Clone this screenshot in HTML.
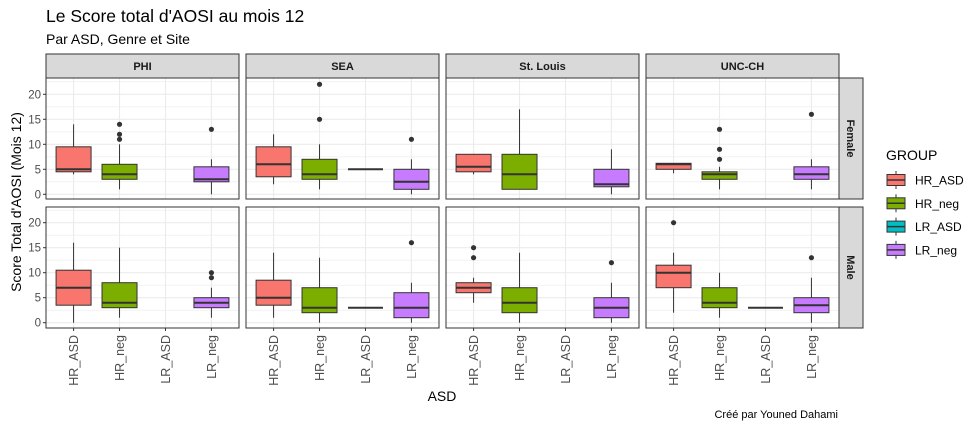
<!DOCTYPE html>
<html><head><meta charset="utf-8"><style>
body{margin:0;background:#fff;width:979px;height:429px;overflow:hidden}
svg{font-family:"Liberation Sans",sans-serif}
</style></head><body>
<svg id="chart" width="979" height="429">
<text x="46" y="22" font-size="17.5" fill="#000">Le Score total d'AOSI au mois 12</text>
<text x="46" y="44" font-size="14" fill="#000">Par ASD, Genre et Site</text>
<text transform="translate(21,202) rotate(-90)" text-anchor="middle" font-size="14" fill="#000">Score Total d'AOSI (Mois 12)</text>
<text x="442" y="401" text-anchor="middle" font-size="14" fill="#000">ASD</text>
<text x="838" y="418" text-anchor="end" font-size="11" fill="#000">Créé par Youned Dahami</text>
<g id="plots"></g>
<g id="legend"></g>
</svg>
<script>
const sites=["PHI","SEA","St. Louis","UNC-CH"];
const genders=["Female","Male"];
const categories=["HR_ASD","HR_neg","LR_ASD","LR_neg"];
const colors=["#F8766D","#7CAE00","#00BFC4","#C77CFF"];
const yTicks=[0,5,10,15,20];
// stats: [lo,q1,med,q3,hi], null = no data
const femaleStats=[
 [[4,4.5,5,9.5,14],[1,3,4,6,10],null,[0,2.5,3,5.5,7]],
 [[2,3.5,6,9.5,12],[1,3,4,7,10],[5,5,5,5,5],[0,1,2.5,5,7]],
 [[4,4.5,5.5,8,8],[1,1,4,8,17],null,[0,1.5,2,5,9]],
 [[4.2,5,6,6.2,6.2],[1,3,4,4.5,5.5],null,[1,3,4,5.5,7]]
];
const femaleOutliers=[
 [[],[11,12,14],[],[13]],
 [[],[15,22],[],[11]],
 [[],[],[],[]],
 [[],[7,9,13],[],[16]]
];
const maleStats=[
 [[0,3.5,7,10.5,16],[1,3,4,8,15],null,[1,3,4,5,7]],
 [[1,3.5,5,8.5,14],[0,2,3,7,13],[3,3,3,3,3],[0,1,3,6,8]],
 [[4,6,7,8,9],[0,2,4,7,14],null,[0,1,3,5,8]],
 [[2,7,10,11.5,14],[1,3,4,7,10],[3,3,3,3,3],[0,2,3.5,5,9]]
];
const maleOutliers=[
 [[],[],[],[9,10]],
 [[],[],[],[16]],
 [[13,15],[],[],[12]],
 [[20],[],[],[13]]
];
const NS="http://www.w3.org/2000/svg";
function mk(tag,attrs,parent){const e=document.createElementNS(NS,tag);for(const k in attrs)e.setAttribute(k,attrs[k]);parent.appendChild(e);return e;}
const plots=document.getElementById('plots');
const panelX0=46,panelW=193,panelStep=200;
const rowTop=[78,207],rowH=[121,121];
function yScale(row,v){const zero=row===0?194.3:322.7;return zero-v*5;}
function xScale(col,i){return panelX0+col*panelStep+(i+0.6)*panelW/4.2;}
const bw=35;
for(let c=0;c<sites.length;c++){
 const px=panelX0+c*panelStep;
 const strip=mk('rect',{x:px,y:54,width:panelW,height:24,fill:"#D9D9D9",stroke:"#333","stroke-width":1},plots);
 
 
 const st=mk('text',{x:px+panelW/2,y:70,"text-anchor":"middle","font-size":"11","font-weight":"bold",fill:"#1a1a1a"},plots);
 st.textContent=sites[c];
 
 
 for(let r=0;r<2;r++){
  const top=rowTop[r],h=rowH[r];
  const g=mk('g',{},plots);
  
  
  mk('rect',{x:px,y:top,width:panelW,height:h,fill:"#fff"},g);
  for(let v=-2.5;v<=22.5;v+=2.5){const y=yScale(r,v);if(y<top||y>top+h)continue;
   mk('line',{x1:px,x2:px+panelW,y1:y,y2:y,stroke:"#EBEBEB","stroke-width":v%5===0?1.1:0.6},g);}
  for(let i=0;i<4;i++){const x=xScale(c,i);mk('line',{x1:x,x2:x,y1:top,y2:top+h,stroke:"#EBEBEB","stroke-width":1.1},g);}
  const stats=r===0?femaleStats:maleStats, outs=r===0?femaleOutliers:maleOutliers;
  for(let i=0;i<4;i++){
   const s=stats[c][i];const x=xScale(c,i);
   if(s){
    const bx=mk('g',{},g);
    
    
    mk('line',{x1:x,x2:x,y1:yScale(r,s[4]),y2:yScale(r,s[3]),stroke:"#333","stroke-width":1},bx);
    mk('line',{x1:x,x2:x,y1:yScale(r,s[1]),y2:yScale(r,s[0]),stroke:"#333","stroke-width":1},bx);
    mk('rect',{x:x-bw/2,y:yScale(r,s[3]),width:bw,height:Math.max(0,yScale(r,s[1])-yScale(r,s[3])),fill:colors[i],stroke:"#333","stroke-width":1},bx);
    mk('line',{x1:x-bw/2,x2:x+bw/2,y1:yScale(r,s[2]),y2:yScale(r,s[2]),stroke:"#333","stroke-width":2},bx);
   }
   for(const o of outs[c][i]){
    const p=mk('circle',{cx:x,cy:yScale(r,o),r:2.6,fill:"#333"},g);
    
    
   }
  }
  mk('rect',{x:px,y:top,width:panelW,height:h,fill:"none",stroke:"#333","stroke-width":1},g);
  if(c===0){
   for(const t of yTicks){const y=yScale(r,t);
    mk('line',{x1:px-3,x2:px,y1:y,y2:y,stroke:"#333"},plots);
    const tl=mk('text',{x:px-5,y:y+4,"text-anchor":"end","font-size":"11.5",fill:"#4d4d4d"},plots);
    tl.textContent=t;
    
    }
  }
  if(c===3){
   const rs=mk('rect',{x:px+panelW,y:top,width:24,height:h,fill:"#D9D9D9",stroke:"#333","stroke-width":1},plots);
   
   
   const rt=mk('text',{transform:`translate(${px+panelW+8},${top+h/2}) rotate(90)`,"text-anchor":"middle","font-size":"11","font-weight":"bold",fill:"#1a1a1a"},plots);
   rt.textContent=genders[r];
   
   
  }
 }
 for(let i=0;i<4;i++){const x=xScale(c,i);
  mk('line',{x1:x,x2:x,y1:328,y2:331,stroke:"#333"},plots);
  const xl=mk('text',{transform:`translate(${x+4.5},${335}) rotate(-90)`,"text-anchor":"end","font-size":"12.5",fill:"#4d4d4d"},plots);
  xl.textContent=categories[i];
  
  }
}
const lg=document.getElementById('legend');


const lt=mk('text',{x:886,y:160,"font-size":"14",fill:"#000"},lg);lt.textContent="GROUP";


for(let i=0;i<4;i++){const cy=180+i*23.3;
 const e=mk('g',{},lg);
 
 
 mk('line',{x1:896,x2:896,y1:cy-9,y2:cy+9,stroke:"#333"},e);
 mk('rect',{x:887,y:cy-5.5,width:18,height:11,fill:colors[i],stroke:"#333"},e);
 mk('line',{x1:887,x2:905,y1:cy,y2:cy,stroke:"#333","stroke-width":1.5},e);
 const t=mk('text',{x:915,y:cy+4.5,"font-size":"12",fill:"#000"},e);t.textContent=categories[i];}
</script>
</body></html>
